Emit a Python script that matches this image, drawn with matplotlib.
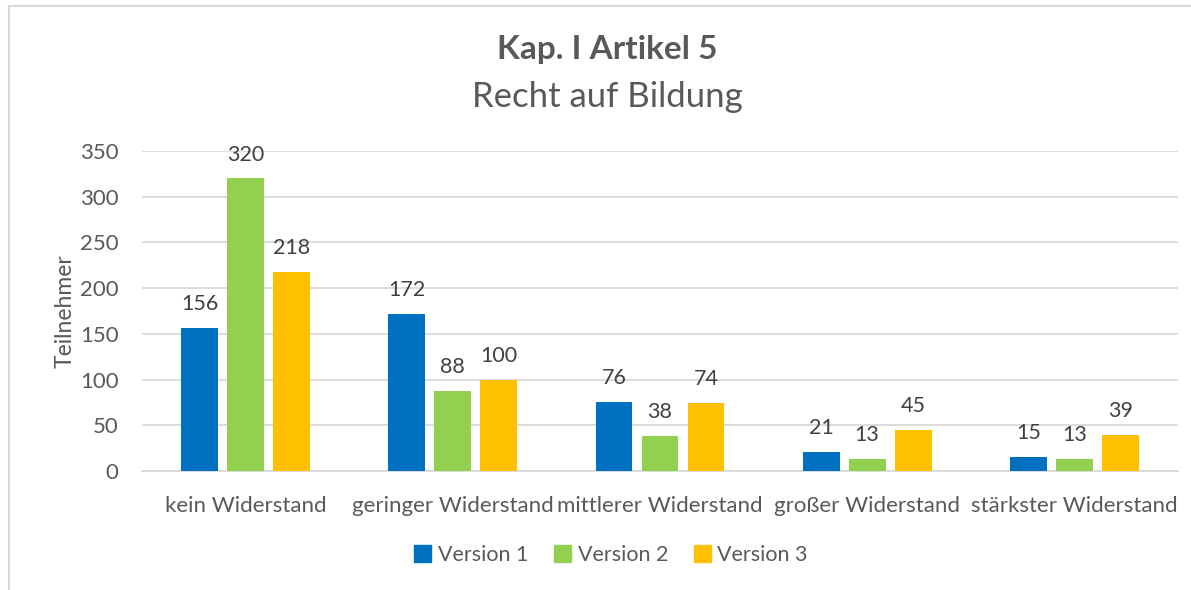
import matplotlib
matplotlib.use("Agg")
import matplotlib.pyplot as plt
import numpy as np
from matplotlib.patches import Rectangle
from matplotlib.lines import Line2D

categories = ["kein Widerstand", "geringer Widerstand", "mittlerer Widerstand",
              "großer Widerstand", "stärkster Widerstand"]
series_names = ["Version 1", "Version 2", "Version 3"]
version1 = [156, 172, 76, 21, 15]
version2 = [320, 88, 38, 13, 13]
version3 = [218, 100, 74, 45, 39]
colors = ["#0070C0", "#92D050", "#FFC000"]

plt.rcParams["font.family"] = ["Lato", "DejaVu Sans"]
text_color = "#595959"
grid_color = "#D9D9D9"

W, H = 1191, 590
fig = plt.figure(figsize=(W / 100, H / 100), dpi=100)

# outer chart frame (partially clipped at the right and bottom)
fig.add_artist(Line2D([9 / W, 9 / W], [0, 1 - 6 / H], transform=fig.transFigure,
                      color=grid_color, lw=1.5))
fig.add_artist(Line2D([9 / W, 1], [1 - 6 / H, 1 - 6 / H], transform=fig.transFigure,
                      color=grid_color, lw=1.5))

ax = fig.add_axes([142 / W, 1 - 471 / H, (1178 - 142) / W, (471 - 151) / H])

x = np.arange(len(categories))
bar_w = 0.178
step = 0.222
for i, (vals, name) in enumerate(zip([version1, version2, version3], series_names)):
    pos = x + (i - 1) * step
    ax.bar(pos, vals, width=bar_w, color=colors[i], label=name, zorder=3)
    for xb, v in zip(pos, vals):
        ax.annotate(str(v), (xb, v), xytext=(0, 10), textcoords="offset points",
                    ha="center", va="bottom", fontsize=15.5, color="#404040")

ax.set_xlim(-0.5, len(categories) - 0.5)
ax.set_ylim(0, 350)
ax.set_yticks(np.arange(0, 351, 50))
ax.yaxis.grid(True, color=grid_color, lw=1.3, zorder=0)
ax.set_axisbelow(True)
for s in ["top", "right", "left"]:
    ax.spines[s].set_visible(False)
ax.spines["bottom"].set_color(grid_color)
ax.spines["bottom"].set_linewidth(1.3)
ax.tick_params(axis="both", length=0, labelsize=16, colors=text_color)
ax.tick_params(axis="y", pad=17)
ax.tick_params(axis="x", pad=18)
ax.set_xticks(x)
ax.set_xticklabels(categories)
ax.set_ylabel("Teilnehmer", fontsize=16.5, color=text_color, labelpad=3)

fig.text(0.51, 1 - 50 / H, "Kap. I Artikel 5", ha="center", va="center",
         fontsize=24, fontweight="bold", color=text_color)
fig.text(0.51, 1 - 97 / H, "Recht auf Bildung", ha="center", va="center",
         fontsize=25, color=text_color)

handles = [Rectangle((0, 0), 1, 1, color=c) for c in colors]
fig.legend(handles, series_names, loc="center", bbox_to_anchor=(611 / W, 1 - 555 / H),
           ncol=3, frameon=False, fontsize=15.5, labelcolor=text_color,
           handlelength=0.8, handleheight=0.8, handletextpad=0.3, columnspacing=1.2)

fig.savefig("out.png", dpi=100, facecolor="white")
